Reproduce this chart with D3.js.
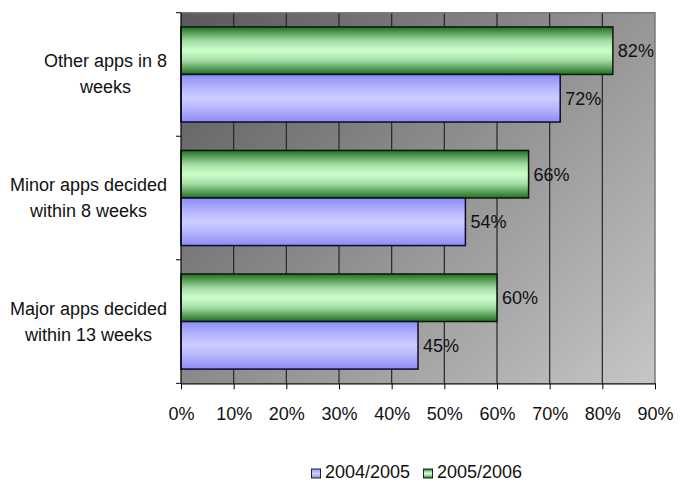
<!DOCTYPE html>
<html lang="en">
<head>
  <meta charset="utf-8">
  <title>Decision times</title>
  <script src="https://d3js.org/d3.v7.min.js"></script>
  <style>
    * { margin: 0; padding: 0; }
    html, body { width: 680px; height: 483px; background: #fff; overflow: hidden; }
    svg { display: block; font-family: "Liberation Sans", Arial, sans-serif; }
  </style>
</head>
<body>
<svg id="chart" width="680" height="483"></svg>
<script>
  // categories, top to bottom, already broken into lines as in the picture
  const categories = [
    ["Other apps in 8", "weeks"],
    ["Minor apps decided", "within 8 weeks"],
    ["Major apps decided", "within 13 weeks"]
  ];
  const seriesNames = ["2005/2006", "2004/2005"];
  const values0506 = [82, 66, 60];
  const values0405 = [72, 54, 45];
  const xTicks = [0, 10, 20, 30, 40, 50, 60, 70, 80, 90];

  const plot = { left: 181, right: 655, top: 12.7, bottom: 383.3 };

  const svg = d3.select("#chart");
  const defs = svg.append("defs");

  // plot area background: diagonal gray gradient
  const bg = defs.append("linearGradient")
    .attr("id", "bg").attr("gradientUnits", "userSpaceOnUse")
    .attr("x1", plot.left).attr("y1", plot.top)
    .attr("x2", plot.left + 422).attr("y2", plot.top + 422);
  bg.append("stop").attr("offset", 0).attr("stop-color", "#5a5a5a");
  bg.append("stop").attr("offset", 1).attr("stop-color", "#c6c6c6");

  function barGrad(id, edge, mid, center) {
    const g = defs.append("linearGradient").attr("id", id)
      .attr("x1", 0).attr("y1", 0).attr("x2", 0).attr("y2", 1);
    [[0, edge], [0.3, mid], [0.5, center], [0.7, mid], [1, edge]].forEach(([o, c]) =>
      g.append("stop").attr("offset", o).attr("stop-color", c));
  }
  barGrad("gGreen", "#1f6f1f", "#a6dea6", "#ccffcc");
  barGrad("gBlue", "#8c8cf6", "#b8b8fd", "#ccccff");

  const fills = { "2005/2006": "url(#gGreen)", "2004/2005": "url(#gBlue)" };
  const strokes = { "2005/2006": "#0a1a0a", "2004/2005": "#0b0b30" };

  const x = d3.scaleLinear().domain([0, 90]).range([plot.left, plot.right]);
  const y = d3.scaleBand().domain(d3.range(categories.length))
    .range([plot.top, plot.bottom]).paddingInner(0.23).paddingOuter(0.115);
  const ySub = d3.scaleBand().domain(seriesNames).range([0, y.bandwidth()]);

  // background
  svg.append("rect")
    .attr("x", plot.left).attr("y", plot.top)
    .attr("width", plot.right - plot.left).attr("height", plot.bottom - plot.top)
    .attr("fill", "url(#bg)");

  // gridlines
  svg.append("g").selectAll("line")
    .data(xTicks.filter(t => t > 0 && t < 90))
    .join("line")
    .attr("x1", d => x(d)).attr("x2", d => x(d))
    .attr("y1", plot.top).attr("y2", plot.bottom)
    .attr("stroke", "#262626").attr("stroke-width", 1.2);

  // plot border top/right
  svg.append("path")
    .attr("d", `M${plot.left},${plot.top}H${plot.right}V${plot.bottom}`)
    .attr("fill", "none").attr("stroke", "#7a7a7a").attr("stroke-width", 1.5);

  // bars
  const rows = categories.map((c, i) => ({
    i, vals: [
      { s: "2005/2006", v: values0506[i] },
      { s: "2004/2005", v: values0405[i] }
    ]
  }));

  const grp = svg.append("g").selectAll("g")
    .data(rows).join("g")
    .attr("transform", d => `translate(0,${y(d.i)})`);

  grp.selectAll("rect")
    .data(d => d.vals).join("rect")
    .attr("x", x(0))
    .attr("y", d => ySub(d.s))
    .attr("width", d => x(d.v) - x(0))
    .attr("height", ySub.bandwidth())
    .attr("fill", d => fills[d.s])
    .attr("stroke", d => strokes[d.s]).attr("stroke-width", 1.5);

  grp.selectAll("text")
    .data(d => d.vals).join("text")
    .attr("x", d => x(d.v) + 5)
    .attr("y", d => ySub(d.s) + ySub.bandwidth() / 2 + 6.5)
    .attr("font-size", 18).attr("fill", "#111")
    .text(d => d.v + "%");

  // axes
  const xAxis = svg.append("g")
    .attr("transform", `translate(0,${plot.bottom})`)
    .call(d3.axisBottom(x).tickValues(xTicks).tickSize(6).tickSizeOuter(0)
      .tickFormat(d => d + "%"));
  xAxis.select(".domain").attr("stroke", "#000").attr("stroke-width", 1.2);
  xAxis.selectAll(".tick line").attr("stroke", "#000");
  xAxis.selectAll("text").attr("font-size", 18).attr("fill", "#111")
    .attr("font-family", "Liberation Sans, Arial, sans-serif")
    .attr("y", 0).attr("dy", null).attr("transform", "translate(0,36.5)");

  const yLine = svg.append("g");
  yLine.append("line")
    .attr("x1", plot.left).attr("x2", plot.left)
    .attr("y1", plot.top).attr("y2", plot.bottom)
    .attr("stroke", "#000").attr("stroke-width", 1.2);
  const step = y.step();
  yLine.selectAll("line.tk")
    .data(d3.range(categories.length + 1))
    .join("line").attr("class", "tk")
    .attr("x1", plot.left - 5).attr("x2", plot.left)
    .attr("y1", d => plot.top + d * step).attr("y2", d => plot.top + d * step)
    .attr("stroke", "#000");

  // category labels: block right-aligned, lines centered within it
  const labels = svg.append("g");
  categories.forEach((lines, i) => {
    const cy = y(i) + y.bandwidth() / 2;
    const g = labels.append("g");
    const ts = lines.map((ln, k) => g.append("text")
      .attr("font-size", 18).attr("fill", "#111")
      .attr("text-anchor", "middle")
      .attr("y", cy - 7 + k * 26)
      .text(ln));
    const maxW = d3.max(ts, t => t.node().getComputedTextLength());
    ts.forEach(t => t.attr("x", 167 - maxW / 2));
  });

  // legend
  const legend = svg.append("g").attr("transform", "translate(311,477.5)");
  const legendItems = ["2004/2005", "2005/2006"];
  const legendX = [0, 112];
  legendItems.forEach((s, k) => {
    const lg = legend.append("g").attr("transform", `translate(${legendX[k]},0)`);
    lg.append("rect").attr("x", 0.5).attr("y", -8.5).attr("width", 9).attr("height", 9)
      .attr("fill", fills[s]).attr("stroke", "#222").attr("stroke-width", 1);
    lg.append("text").attr("x", 14).attr("y", 0)
      .attr("font-size", 18).attr("fill", "#111").text(s);
  });
</script>
</body>
</html>
